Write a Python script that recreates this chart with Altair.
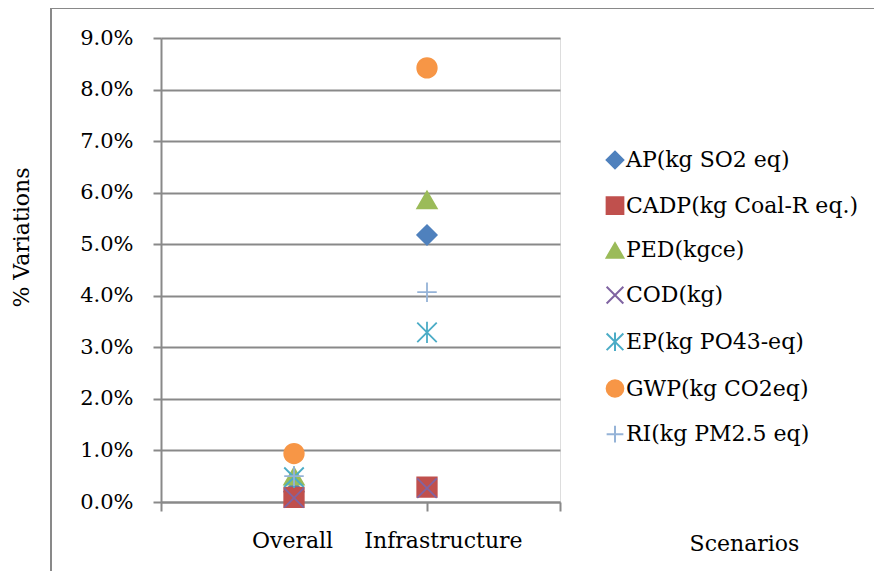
import altair as alt
import pandas as pd

# ---- data ----
scenarios = ["Overall", "Infrastructure"]
scenario_x = [1, 2]
series = [
    "AP(kg SO2 eq)",
    "CADP(kg Coal-R eq.)",
    "PED(kgce)",
    "COD(kg)",
    "EP(kg PO43-eq)",
    "GWP(kg CO2eq)",
    "RI(kg PM2.5 eq)",
]
overall = [0.0020, 0.0009, 0.0050, 0.0008, 0.0048, 0.0094, 0.0050]
infrastructure = [0.0518, 0.0029, 0.0586, 0.0027, 0.0329, 0.0842, 0.0407]
y_ticks = [0.00, 0.01, 0.02, 0.03, 0.04, 0.05, 0.06, 0.07, 0.08, 0.09]

# ---- style ----
colors = ["#4F81BD", "#C0504D", "#9BBB59", "#8064A2", "#4BACC6", "#F79646", "#95B3D7"]
fills = ["#4F81BD", "#C0504D", "#9BBB59", "transparent", "transparent", "#F79646", "transparent"]
shapes = [
    "diamond",
    "square",
    "triangle-up",
    "M-1,-1L1,1M-1,1L1,-1",
    "M-1,-1L1,1M-1,1L1,-1M0,-1.1L0,1.1",
    "circle",
    "M-1,0L1,0M0,-1L0,1",
]
label_pos = [0.985, 2.12]
tick_pos = [0, 2, 3]
FONT = "DejaVu Serif"
GRID = "#898989"

rows = []
for vals, sc, xv in [(overall, scenarios[0], scenario_x[0]), (infrastructure, scenarios[1], scenario_x[1])]:
    for i, (s, v) in enumerate(zip(series, vals)):
        rows.append({"scenario": sc, "x": xv, "series": s, "value": v, "order": i})
df = pd.DataFrame(rows)

label_expr = " : ".join(
    f"abs(datum.value - {p}) < 0.001 ? '{n}'" for p, n in zip(label_pos, scenarios)
) + " : ''"
tick_test = " || ".join(f"abs(datum.value - {t}) < 0.001" for t in tick_pos)

x_axis = alt.Axis(
    values=sorted(tick_pos + label_pos),
    labelExpr=label_expr,
    labelOverlap=False,
    labelFlush=False,
    labelFont=FONT,
    labelFontSize=22,
    labelColor="black",
    labelPadding=19,
    tickSize=9,
    tickColor=GRID,
    tickWidth=2,
    tickOpacity={"condition": {"test": tick_test, "value": 1}, "value": 0},
    domainColor=GRID,
    domainWidth=2,
    grid=False,
    title="Scenarios",
    titleFont=FONT,
    titleFontSize=22,
    titleFontWeight="normal",
    titleColor="black",
    titleX=583,
    titleY=41,
    titleBaseline="middle",
    titleAlign="center",
)

y_axis = alt.Axis(
    values=y_ticks,
    format=".1%",
    labelFont=FONT,
    labelFontSize=21,
    labelColor="black",
    labelPadding=20,
    tickSize=8,
    tickColor=GRID,
    tickWidth=2,
    domainColor=GRID,
    domainWidth=2,
    gridColor=GRID,
    gridWidth=2,
    title="% Variations",
    titleFont=FONT,
    titleFontSize=22,
    titleFontWeight="normal",
    titleColor="black",
    titleX=-140,
    titleY=199,
    titleBaseline="middle",
    titleAlign="center",
)

legend = alt.Legend(
    orient="none",
    legendX=443,
    legendY=111,
    title=None,
    labelFont=FONT,
    labelFontSize=22,
    labelColor="black",
    labelLimit=400,
    symbolSize=280,
    symbolStrokeWidth=2,
    rowPadding=19.7,
    labelOffset=0,
    padding=0,
)

points = alt.Chart(df).mark_point(size=380, strokeWidth=1.8, opacity=1).encode(
    x=alt.X("x:Q", scale=alt.Scale(domain=[0, 3], nice=False, zero=False), axis=x_axis),
    y=alt.Y("value:Q", scale=alt.Scale(domain=[0, 0.09], nice=False), axis=y_axis),
    stroke=alt.Stroke("series:N", scale=alt.Scale(domain=series, range=colors), legend=legend, sort=series),
    fill=alt.Fill("series:N", scale=alt.Scale(domain=series, range=fills), legend=legend, sort=series),
    shape=alt.Shape("series:N", scale=alt.Scale(domain=series, range=shapes), legend=legend, sort=series),
    order=alt.Order("order:Q"),
)

frame = alt.Chart(pd.DataFrame({"a": [0]})).mark_rect(
    fill="transparent", stroke=GRID, strokeWidth=2
).encode(
    x=alt.value(-110), x2=alt.value(900), y=alt.value(-30), y2=alt.value(700)
)

chart = alt.layer(frame, points).properties(
    width=399,
    height=464,
    autosize=alt.AutoSizeParams(type="none"),
    padding={"left": 153, "top": 30, "right": 314, "bottom": 69},
).configure_view(stroke=None).configure(background="white")

chart.save("out.html", embed_options={"renderer": "svg", "actions": False})
